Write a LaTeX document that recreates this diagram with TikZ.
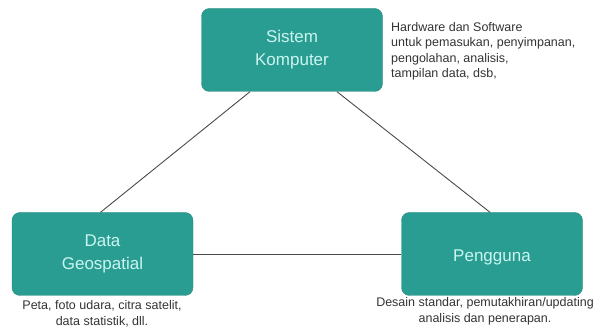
\documentclass[tikz,border=0pt]{standalone}
\usepackage{fontspec}
\setmainfont{Liberation Sans}
\definecolor{teal1}{HTML}{2A9D93}
\definecolor{teal2}{HTML}{24897F}
\definecolor{labelc}{HTML}{CBF5F0}
\definecolor{linec}{HTML}{4A4A4A}
\definecolor{notec}{HTML}{333333}
\tikzset{
  box/.style={draw=teal2, fill=teal1, rounded corners=8pt, minimum width=181pt, minimum height=83pt,
    text=labelc, align=center, font=\fontsize{17}{23}\selectfont, inner sep=0pt},
  note/.style={text=notec, inner sep=0pt, font=\fontsize{12.5}{15.5}\selectfont},
  captext/.style={text=notec, inner sep=0pt, align=center, font=\fontsize{12.5}{16.5}\selectfont},
  conn/.style={draw=linec, line width=0.9pt}
}
\begin{document}
\begin{tikzpicture}[x=1pt,y=1pt]
\useasboundingbox (0,0) rectangle (598,329);
\node[box] (s) at (292,279) {Sistem\\Komputer};
\node[box] (d) at (102.5,75) {Data\\Geospatial};
\node[box, text depth=0pt] (p) at (492,75) {\raisebox{-3pt}{Pengguna}};
\node[note, align=left, anchor=north west] (sn) at (391,307) {Hardware dan Software\\untuk pemasukan, penyimpanan,\\pengolahan, analisis,\\tampilan data, dsb,};
\node[captext, anchor=north] (dn) at (102,29) {Peta, foto udara, citra satelit,\\data statistik, dll.};
\node[captext, anchor=north] (pn) at (485,32) {Desain standar, pemutakhiran/updating\\analisis dan penerapan.};
\draw[conn] ([xshift=-42pt]s.south) -- ([xshift=-2pt]d.north);
\draw[conn] ([xshift=45pt]s.south) -- ([xshift=-2pt]p.north);
\draw[conn] (d.east) -- (p.west);
\end{tikzpicture}
\end{document}
